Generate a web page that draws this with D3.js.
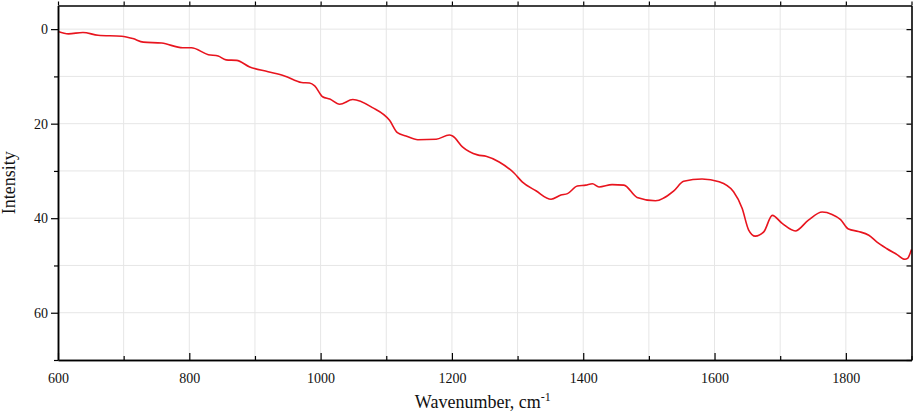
<!DOCTYPE html>
<html>
<head>
<meta charset="utf-8">
<script src="https://cdn.jsdelivr.net/npm/d3@7"></script>
<style>
  body { margin: 0; background: #fff; }
  svg { display: block; font-family: "Liberation Serif", "Times New Roman", serif; }
  .grid line { stroke: #e6e6e6; stroke-width: 1; }
</style>
</head>
<body>
<div id="chart"></div>
<script>
// spectrum (wavenumber, cm-1 / intensity)
const wavenumber = [600, 616, 638, 661, 697, 714, 730, 758, 790, 803, 829, 844, 856, 872, 892,
  920, 945, 971, 983, 991, 1003, 1014, 1029, 1049, 1079, 1105, 1117, 1130, 1148, 1176,
  1196, 1201, 1216, 1239, 1252, 1272, 1295, 1307, 1328, 1351, 1366, 1376, 1391, 1404,
  1414, 1424, 1444, 1462, 1482, 1510, 1538, 1553, 1581, 1607, 1629, 1642, 1652, 1662,
  1675, 1688, 1703, 1723, 1743, 1764, 1779, 1792, 1804, 1819, 1835, 1847, 1862, 1878,
  1890, 1894, 1900];
const intensity = [0.5, 1.0, 0.7, 1.3, 1.5, 2.0, 2.75, 2.95, 3.95, 3.95, 5.4, 5.7, 6.5, 6.6, 8.0,
  9.0, 9.9, 11.3, 11.4, 12.0, 14.3, 14.8, 15.9, 14.9, 16.6, 19.3, 21.9, 22.6, 23.4, 23.3,
  22.4, 22.6, 24.9, 26.6, 26.9, 28.1, 30.5, 32.3, 34.2, 36.0, 35.1, 34.8, 33.2, 33.0,
  32.7, 33.4, 32.9, 33.0, 35.6, 36.3, 34.2, 32.2, 31.7, 32.3, 34.4, 37.9, 42.5, 43.8,
  42.9, 39.4, 41.1, 42.7, 40.4, 38.7, 39.2, 40.3, 42.3, 42.8, 43.6, 45.0, 46.4, 47.7,
  48.7, 48.5, 46.6];

const xMajor = [600, 800, 1000, 1200, 1400, 1600, 1800];
const xMinor = [700, 900, 1100, 1300, 1500, 1700, 1900];
const yMajor = [0, 20, 40, 60];
const yMinor = [10, 30, 50, 70];

const W = 913, H = 413;
const margin = { top: 5.5, right: 1.5, bottom: 53, left: 58 };
const width = W - margin.left - margin.right;
const height = H - margin.top - margin.bottom;

const data = wavenumber.map((w, i) => ({ w: w, v: intensity[i] }));

const x = d3.scaleLinear().domain([600, 1900]).range([0, width]);
const y = d3.scaleLinear().domain([-5, 70]).range([0, height]);

const svg = d3.select("#chart").append("svg")
  .attr("width", W)
  .attr("height", H);

const g = svg.append("g")
  .attr("transform", "translate(" + margin.left + "," + margin.top + ")");

// grid lines
g.append("g").attr("class", "grid")
  .selectAll("line").data(xMajor.concat(xMinor).filter(d => d > 600 && d < 1900))
  .enter().append("line")
  .attr("x1", d => x(d)).attr("x2", d => x(d))
  .attr("y1", 0).attr("y2", height);

g.append("g").attr("class", "grid")
  .selectAll("line").data(yMajor.concat(yMinor).filter(d => d < 70))
  .enter().append("line")
  .attr("x1", 0).attr("x2", width)
  .attr("y1", d => y(d)).attr("y2", d => y(d));

// the spectrum
const line = d3.line()
  .x(d => x(d.w))
  .y(d => y(d.v))
  .curve(d3.curveMonotoneX);

g.append("path")
  .datum(data)
  .attr("fill", "none")
  .attr("stroke", "#e8141e")
  .attr("stroke-width", 1.6)
  .attr("d", line);

// bottom axis, ticks inward
const bottom = g.append("g")
  .attr("transform", "translate(0," + height + ")")
  .call(d3.axisBottom(x).tickValues(xMajor).tickFormat(d3.format("d"))
    .tickSizeInner(-7).tickSizeOuter(0).tickPadding(13));
g.append("g")
  .attr("transform", "translate(0," + height + ")")
  .call(d3.axisBottom(x).tickValues(xMinor).tickSizeInner(-4).tickSizeOuter(0).tickFormat(""));

// top axis, ticks outward
g.append("g")
  .call(d3.axisTop(x).tickValues(xMajor.concat(xMinor)).tickSize(4).tickSizeOuter(0).tickFormat(""));

// left axis, ticks outward
const left = g.append("g")
  .call(d3.axisLeft(y).tickValues(yMajor).tickSizeInner(7).tickSizeOuter(0).tickPadding(3));
g.append("g")
  .call(d3.axisLeft(y).tickValues(yMinor).tickSizeInner(4).tickSizeOuter(0).tickFormat(""));

// right axis, ticks inward
g.append("g")
  .attr("transform", "translate(" + width + ",0)")
  .call(d3.axisRight(y).tickValues(yMajor.concat(yMinor)).tickSizeInner(-5).tickSizeOuter(0).tickFormat(""));

g.selectAll("g").attr("font-family", null);
g.selectAll(".tick text")
  .style("font-family", "'Liberation Serif', 'Times New Roman', serif")
  .style("font-size", "14px")
  .attr("fill", "#111");
g.selectAll(".domain").attr("stroke", "#000").attr("stroke-width", 1.6);
g.selectAll(".tick line").attr("stroke", "#000").attr("stroke-width", 1.2);
left.select(".domain").attr("stroke", "#555");

// axis titles
svg.append("text")
  .attr("x", margin.left + x(1250) - 2)
  .attr("y", 408)
  .attr("text-anchor", "middle")
  .style("font-size", "18px")
  .style("fill", "#111")
  .text("Wavenumber, cm")
  .append("tspan")
  .attr("dy", -7)
  .style("font-size", "12px")
  .text("-1");

svg.append("text")
  .attr("transform", "translate(15," + (margin.top + y(32.5)) + ") rotate(-90)")
  .attr("text-anchor", "middle")
  .style("font-size", "18px")
  .style("fill", "#111")
  .text("Intensity");
</script>
</body>
</html>
